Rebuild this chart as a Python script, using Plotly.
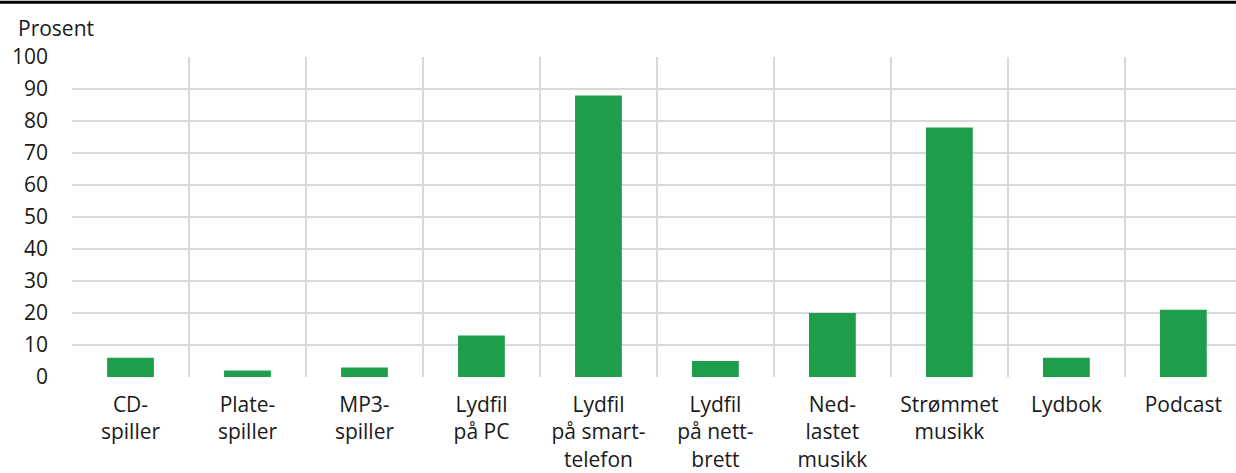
import plotly.graph_objects as go

categories = ["CD-<br>spiller", "Plate-<br>spiller", "MP3-<br>spiller", "Lydfil<br>på PC",
              "Lydfil<br>på smart-<br>telefon", "Lydfil<br>på nett-<br>brett", "Ned-<br>lastet<br>musikk",
              "Strømmet<br>musikk", "Lydbok", "Podcast"]
values = [6, 2, 3, 13, 88, 5, 20, 78, 6, 21]
y_ticks = [0, 10, 20, 30, 40, 50, 60, 70, 80, 90, 100]

W, H = 1236, 473
L, T, B = 72, 57, 92
pw = W - L
ph = H - T - B

fig = go.Figure(go.Bar(x=categories, y=values, marker=dict(color="#1e9e4a", line=dict(width=0)),
                       width=0.4, hoverinfo="skip"))

fig.update_layout(
    width=W, height=H,
    margin=dict(l=L, r=0, t=T, b=B),
    plot_bgcolor="white", paper_bgcolor="white",
    font=dict(family="Open Sans", size=21, color="#1a1a1a"),
    showlegend=False,
    xaxis=dict(type="category", tickson="boundaries", showgrid=True, gridcolor="#d9d9d9", gridwidth=2,
               ticks="", range=[-0.5, 9.45], showline=False, zeroline=False, ticklabelstandoff=13),
    yaxis=dict(range=[0, 100], tickvals=y_ticks, showgrid=True, gridcolor="#d9d9d9", gridwidth=2,
               zeroline=False, showline=False, ticks="", ticklabelstandoff=23),
    annotations=[dict(text="Prosent", xref="paper", yref="paper", x=-(L - 16) / pw, y=1 + (T - 28) / ph,
                      xanchor="left", yanchor="middle", showarrow=False, font=dict(size=21))],
    shapes=[dict(type="line", xref="paper", yref="paper", x0=-L / pw, x1=1.01, y0=1 + (T - 1.5) / ph,
                 y1=1 + (T - 1.5) / ph, line=dict(color="black", width=3))],
)

fig.write_html("out.html", config={"displayModeBar": False},
               post_script="document.body.style.margin='0';document.body.style.overflow='hidden';")
